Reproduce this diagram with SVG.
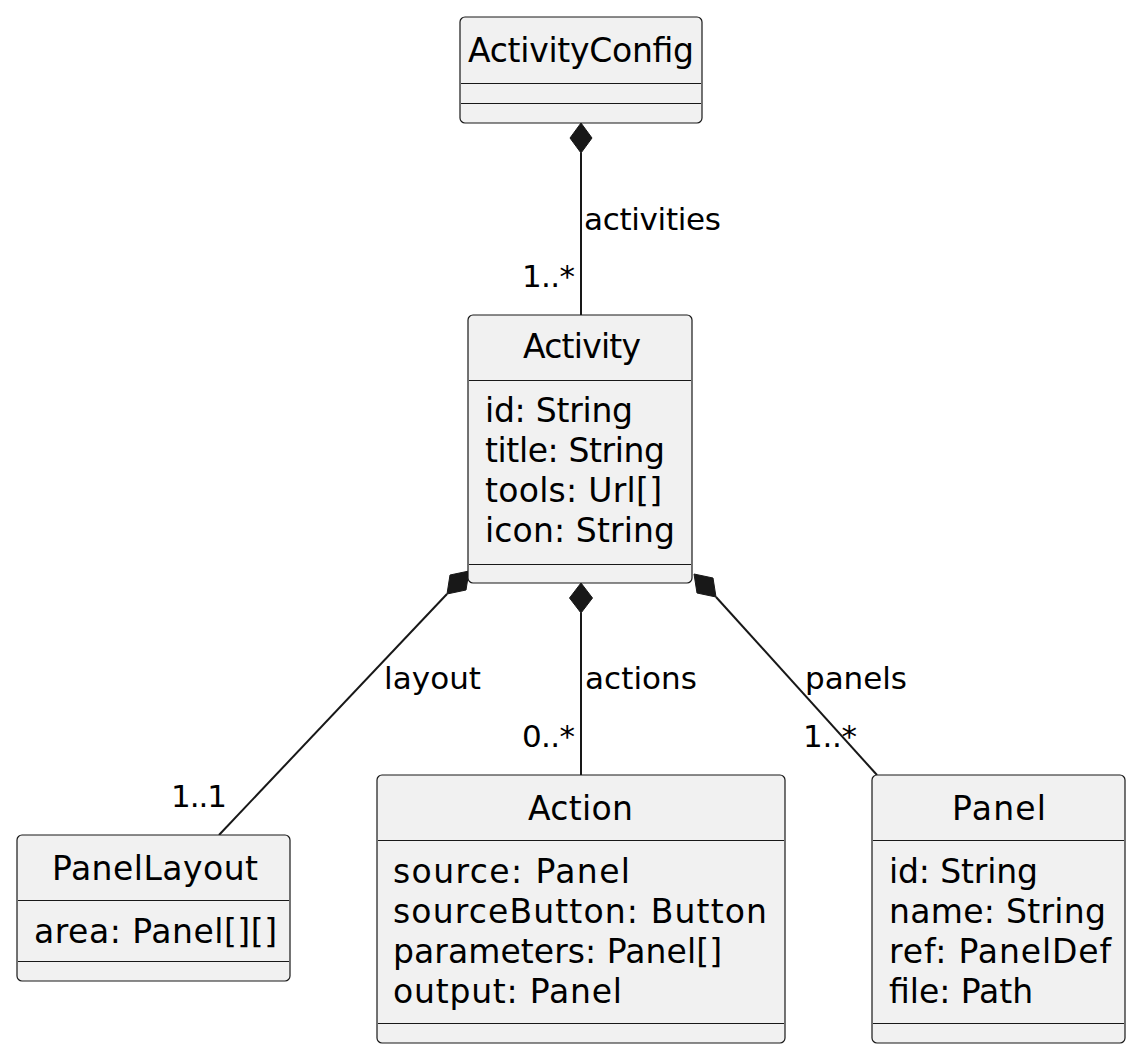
<svg xmlns="http://www.w3.org/2000/svg" width="1140" height="1058" viewBox="0 0 1140 1058">
<style>
.box{fill:#F1F1F1;stroke:#181818;stroke-width:1.2}
.sep{stroke:#181818;stroke-width:1.2}
.t{font-family:"DejaVu Sans","Liberation Sans",sans-serif;font-size:33px;fill:#000}
.l{font-family:"DejaVu Sans","Liberation Sans",sans-serif;font-size:31px;fill:#000}
.edge{stroke:#181818;stroke-width:2;fill:none}
.dia{fill:#181818;stroke:#181818;stroke-width:1}
</style>
<rect width="1140" height="1058" fill="#FFFFFF"/>
<g id="connectors">
  <line class="edge" x1="581" y1="153" x2="581" y2="315"/>
  <polygon class="dia" points="581,123 592,138 581,153 570,138"/>
  <text class="l" x="584" y="230" textLength="137">activities</text>
  <text class="l" x="522" y="287" textLength="53">1..*</text>

  <line class="edge" x1="447" y1="594" x2="219" y2="835"/>
  <polygon class="dia" points="469,571 450,575 447,594 466,590"/>
  <text class="l" x="384" y="689" textLength="97">layout</text>
  <text class="l" x="171" y="807" textLength="56">1..1</text>

  <line class="edge" x1="581" y1="613" x2="581" y2="775"/>
  <polygon class="dia" points="581,583 592.5,598 581,613 569.5,598"/>
  <text class="l" x="585" y="689" textLength="112">actions</text>
  <text class="l" x="522" y="747" textLength="53">0..*</text>

  <line class="edge" x1="716" y1="597" x2="877" y2="775"/>
  <polygon class="dia" points="694,574 713,578 716,597 697,593"/>
  <text class="l" x="805" y="689" textLength="102">panels</text>
  <text class="l" x="803" y="747" textLength="54">1..*</text>
</g>
<g id="ActivityConfig">
  <rect class="box" x="460" y="17" width="242" height="106" rx="5"/>
  <text class="t" x="468" y="62" textLength="226">ActivityConfig</text>
  <line class="sep" x1="461" y1="83.5" x2="701" y2="83.5"/>
  <line class="sep" x1="461" y1="103.5" x2="701" y2="103.5"/>
</g>
<g id="Activity">
  <rect class="box" x="468" y="315" width="224" height="268" rx="5"/>
  <text class="t" x="523" y="358" textLength="118">Activity</text>
  <line class="sep" x1="469" y1="380.5" x2="691" y2="380.5"/>
  <text class="t" x="485" y="422" textLength="148">id: String</text>
  <text class="t" x="485" y="462" textLength="180">title: String</text>
  <text class="t" x="485" y="502" textLength="177">tools: Url[]</text>
  <text class="t" x="485" y="542" textLength="190">icon: String</text>
  <line class="sep" x1="469" y1="564.5" x2="691" y2="564.5"/>
</g>
<g id="PanelLayout">
  <rect class="box" x="17" y="835" width="273" height="146" rx="5"/>
  <text class="t" x="52" y="880" textLength="206">PanelLayout</text>
  <line class="sep" x1="18" y1="900.5" x2="289" y2="900.5"/>
  <text class="t" x="34" y="943" textLength="243">area: Panel[][]</text>
  <line class="sep" x1="18" y1="961.5" x2="289" y2="961.5"/>
</g>
<g id="Action">
  <rect class="box" x="377" y="775" width="408" height="268" rx="5"/>
  <text class="t" x="528" y="820" textLength="105">Action</text>
  <line class="sep" x1="378" y1="840.5" x2="784" y2="840.5"/>
  <text class="t" x="393" y="883" textLength="237">source: Panel</text>
  <text class="t" x="393" y="923" textLength="374">sourceButton: Button</text>
  <text class="t" x="393" y="963" textLength="329">parameters: Panel[]</text>
  <text class="t" x="393" y="1003" textLength="229">output: Panel</text>
  <line class="sep" x1="378" y1="1023.5" x2="784" y2="1023.5"/>
</g>
<g id="Panel">
  <rect class="box" x="872" y="775" width="253" height="268" rx="5"/>
  <text class="t" x="952" y="820" textLength="94">Panel</text>
  <line class="sep" x1="873" y1="840.5" x2="1124" y2="840.5"/>
  <text class="t" x="889" y="883" textLength="149">id: String</text>
  <text class="t" x="889" y="923" textLength="217">name: String</text>
  <text class="t" x="889" y="963" textLength="222">ref: PanelDef</text>
  <text class="t" x="889" y="1003" textLength="144">file: Path</text>
  <line class="sep" x1="873" y1="1023.5" x2="1124" y2="1023.5"/>
</g>
</svg>
